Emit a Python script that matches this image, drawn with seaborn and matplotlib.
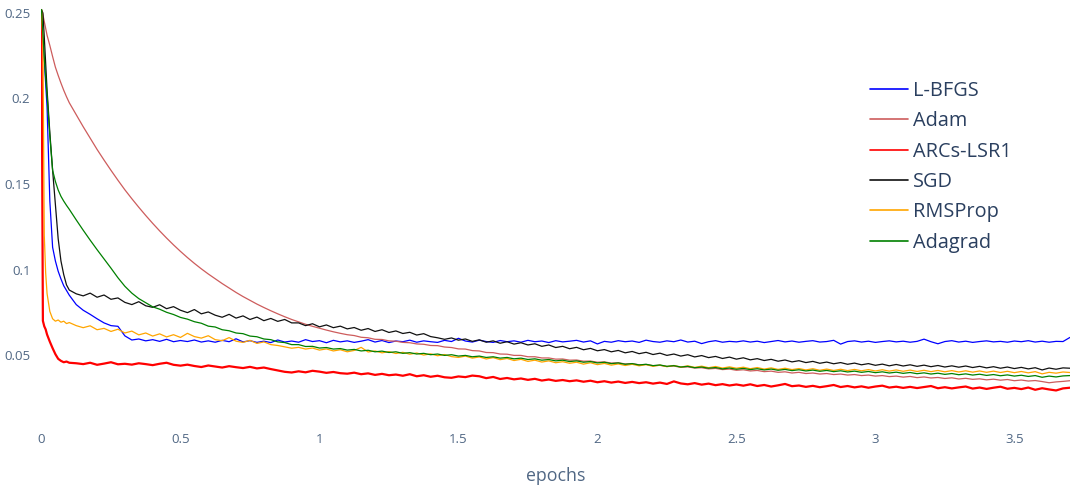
import numpy as np
import pandas as pd
import matplotlib
matplotlib.use("Agg")
import matplotlib.pyplot as plt
import seaborn as sns

# ---- sample positions (epochs) ----
EPOCHS_HEAD = [0.0, 0.005, 0.01, 0.015, 0.02, 0.03, 0.04, 0.05, 0.06, 0.07, 0.08, 0.09, 0.1]
EPOCHS_TAIL = np.round(np.arange(0.125, 3.7001, 0.025), 3).tolist()
EPOCHS = EPOCHS_HEAD + EPOCHS_TAIL

# ---- training loss per optimizer ----
LBFGS = [0.250, 0.236, 0.222, 0.208, 0.195, 0.140, 0.113, 0.105, 0.099, 0.0945, 0.0905, 0.0878, 0.0850,
         0.0795, 0.0762, 0.0738, 0.0712, 0.0688, 0.0672, 0.0668, 0.0612,
         0.0588, 0.0594, 0.0583, 0.0590, 0.0580, 0.0592, 0.0578, 0.0585,
         0.0579, 0.0588, 0.0576, 0.0583, 0.0575, 0.0586, 0.0578, 0.0595,
         0.0577, 0.0584, 0.0574, 0.0581, 0.0573, 0.0588, 0.0576, 0.0582,
         0.0575, 0.0590, 0.0579, 0.0584, 0.0572, 0.0586, 0.0577, 0.0583,
         0.0574, 0.0581, 0.0590, 0.0576, 0.0585, 0.0573, 0.0582, 0.0578,
         0.0587, 0.0575, 0.0583, 0.0578, 0.0574, 0.0586, 0.0579, 0.0598,
         0.0582, 0.0576, 0.0587, 0.0579, 0.0574, 0.0585, 0.0578, 0.0583,
         0.0575, 0.0586, 0.0578, 0.0582, 0.0573, 0.0584, 0.0577, 0.0581,
         0.0586, 0.0576, 0.0583, 0.0565, 0.0580, 0.0575, 0.0584, 0.0578,
         0.0582, 0.0574, 0.0587, 0.0579, 0.0575, 0.0583, 0.0578, 0.0588,
         0.0576, 0.0581, 0.0567, 0.0578, 0.0584, 0.0575, 0.0580, 0.0577,
         0.0583, 0.0576, 0.0581, 0.0573, 0.0579, 0.0585, 0.0577, 0.0582,
         0.0575, 0.0580, 0.0584, 0.0576, 0.0579, 0.0586, 0.0564, 0.0579,
         0.0583, 0.0576, 0.0581, 0.0574, 0.0579, 0.0583, 0.0577, 0.0581,
         0.0575, 0.0580, 0.0593, 0.0578, 0.0566, 0.0579, 0.0584, 0.0576,
         0.0581, 0.0574, 0.0579, 0.0583, 0.0577, 0.0580, 0.0575, 0.0582,
         0.0578, 0.0584, 0.0576, 0.0581, 0.0575, 0.0580, 0.0579, 0.0603]

ADAM = [0.252, 0.249, 0.245, 0.241, 0.237, 0.231, 0.2245, 0.2183, 0.2135, 0.209, 0.2048, 0.201, 0.1975,
        0.1905, 0.1835, 0.1768, 0.1702, 0.1640, 0.1580, 0.1522, 0.1466,
        0.1414, 0.1364, 0.1316, 0.1270, 0.1226, 0.1184, 0.1144, 0.1106,
        0.1070, 0.1036, 0.1004, 0.0974, 0.0946, 0.0918, 0.0892, 0.0866,
        0.0842, 0.0820, 0.0798, 0.0778, 0.0759, 0.0741, 0.0724, 0.0708,
        0.0694, 0.0680, 0.0668, 0.0657, 0.0646, 0.0636, 0.0627, 0.0619,
        0.0614, 0.0604, 0.0601, 0.0592, 0.0591, 0.0583, 0.0581, 0.0574,
        0.0572, 0.0565, 0.0563, 0.0556, 0.0555, 0.0547, 0.0544, 0.0536,
        0.0535, 0.0526, 0.0524, 0.0515, 0.0514, 0.0506, 0.0505, 0.0498,
        0.0498, 0.0490, 0.0490, 0.0483, 0.0483, 0.0476, 0.0477, 0.0470,
        0.0471, 0.0464, 0.0465, 0.0458, 0.0460, 0.0453, 0.0455, 0.0448,
        0.0450, 0.0443, 0.0445, 0.0438, 0.0440, 0.0433, 0.0436, 0.0428,
        0.0431, 0.0424, 0.0426, 0.0419, 0.0422, 0.0415, 0.0418, 0.0411,
        0.0414, 0.0407, 0.0410, 0.0403, 0.0406, 0.0399, 0.0402, 0.0395,
        0.0399, 0.0392, 0.0395, 0.0389, 0.0392, 0.0386, 0.0389, 0.0383,
        0.0386, 0.0380, 0.0383, 0.0377, 0.0380, 0.0374, 0.0377, 0.0371,
        0.0375, 0.0368, 0.0372, 0.0366, 0.0369, 0.0363, 0.0367, 0.0360,
        0.0364, 0.0358, 0.0361, 0.0355, 0.0359, 0.0353, 0.0357, 0.0350,
        0.0354, 0.0348, 0.0351, 0.0345, 0.0338, 0.0343, 0.0346, 0.0350]

ARCS_LSR1 = [0.250, 0.0700, 0.0668, 0.0650, 0.0620, 0.0578, 0.0540, 0.0505, 0.0478, 0.0466, 0.0458, 0.0462, 0.0455,
             0.0452, 0.0447, 0.0455, 0.0443, 0.0450, 0.0458, 0.0446, 0.0449,
             0.0444, 0.0452, 0.0447, 0.0441, 0.0449, 0.0455, 0.0443, 0.0438,
             0.0444, 0.0436, 0.0430, 0.0439, 0.0433, 0.0427, 0.0435, 0.0429,
             0.0424, 0.0431, 0.0422, 0.0427, 0.0418, 0.0410, 0.0402, 0.0398,
             0.0405, 0.0399, 0.0408, 0.0403, 0.0396, 0.0401, 0.0394, 0.0391,
             0.0397, 0.0388, 0.0393, 0.0384, 0.0390, 0.0382, 0.0386, 0.0379,
             0.0388, 0.0376, 0.0382, 0.0373, 0.0379, 0.0370, 0.0367, 0.0375,
             0.0371, 0.0380, 0.0376, 0.0365, 0.0372, 0.0360, 0.0366, 0.0358,
             0.0363, 0.0355, 0.0361, 0.0351, 0.0357, 0.0349, 0.0354, 0.0347,
             0.0352, 0.0344, 0.0350, 0.0341, 0.0347, 0.0339, 0.0345, 0.0337,
             0.0343, 0.0336, 0.0341, 0.0333, 0.0339, 0.0331, 0.0346, 0.0334,
             0.0329, 0.0336, 0.0327, 0.0333, 0.0324, 0.0330, 0.0322, 0.0328,
             0.0321, 0.0329, 0.0319, 0.0325, 0.0316, 0.0323, 0.0331, 0.0318,
             0.0322, 0.0314, 0.0320, 0.0312, 0.0318, 0.0325, 0.0313, 0.0319,
             0.0311, 0.0317, 0.0309, 0.0316, 0.0321, 0.0310, 0.0315, 0.0308,
             0.0314, 0.0307, 0.0313, 0.0319, 0.0306, 0.0312, 0.0305, 0.0311,
             0.0316, 0.0304, 0.0310, 0.0302, 0.0309, 0.0315, 0.0303, 0.0308,
             0.0301, 0.0310, 0.0297, 0.0306, 0.0299, 0.0293, 0.0305, 0.0309]

SGD = [0.252, 0.250, 0.236, 0.220, 0.205, 0.180, 0.158, 0.138, 0.118, 0.105, 0.097, 0.091, 0.088,
       0.0858, 0.0846, 0.0862, 0.0838, 0.0851, 0.0826, 0.0834, 0.0808,
       0.0795, 0.0812, 0.0788, 0.0779, 0.0794, 0.0771, 0.0783, 0.0762,
       0.0748, 0.0766, 0.0741, 0.0752, 0.0733, 0.0721, 0.0738, 0.0716,
       0.0729, 0.0708, 0.0722, 0.0701, 0.0714, 0.0697, 0.0708, 0.0688,
       0.0688, 0.0672, 0.0683, 0.0665, 0.0676, 0.0660, 0.0669, 0.0653,
       0.0661, 0.0645, 0.0655, 0.0638, 0.0648, 0.0632, 0.0641, 0.0626,
       0.0633, 0.0617, 0.0625, 0.0608, 0.0601, 0.0592, 0.0600, 0.0587,
       0.0594, 0.0580, 0.0589, 0.0575, 0.0583, 0.0569, 0.0578, 0.0564,
       0.0572, 0.0559, 0.0566, 0.0551, 0.0559, 0.0544, 0.0551, 0.0537,
       0.0545, 0.0531, 0.0539, 0.0525, 0.0532, 0.0519, 0.0527, 0.0513,
       0.0521, 0.0508, 0.0516, 0.0503, 0.0511, 0.0498, 0.0506, 0.0494,
       0.0502, 0.0489, 0.0497, 0.0485, 0.0492, 0.0480, 0.0488, 0.0476,
       0.0484, 0.0472, 0.0479, 0.0468, 0.0475, 0.0464, 0.0471, 0.0460,
       0.0467, 0.0456, 0.0463, 0.0452, 0.0459, 0.0449, 0.0456, 0.0446,
       0.0453, 0.0443, 0.0450, 0.0440, 0.0447, 0.0437, 0.0445, 0.0436,
       0.0443, 0.0434, 0.0441, 0.0432, 0.0439, 0.0430, 0.0437, 0.0429,
       0.0436, 0.0427, 0.0434, 0.0425, 0.0432, 0.0423, 0.0430, 0.0421,
       0.0428, 0.0419, 0.0426, 0.0413, 0.0424, 0.0417, 0.0425, 0.0423]

RMSPROP = [0.252, 0.235, 0.120, 0.098, 0.086, 0.0755, 0.0712, 0.0698, 0.0705, 0.0692, 0.0698, 0.0684, 0.0690,
           0.0672, 0.0660, 0.0671, 0.0648, 0.0656, 0.0638, 0.0651, 0.0629,
           0.0640, 0.0618, 0.0629, 0.0611, 0.0624, 0.0606, 0.0619, 0.0603,
           0.0627, 0.0608, 0.0599, 0.0613, 0.0590, 0.0584, 0.0602, 0.0581,
           0.0574, 0.0586, 0.0568, 0.0577, 0.0561, 0.0556, 0.0548, 0.0540,
           0.0545, 0.0535, 0.0541, 0.0529, 0.0536, 0.0524, 0.0531, 0.0519,
           0.0527, 0.0545, 0.0518, 0.0524, 0.0513, 0.0520, 0.0509, 0.0516,
           0.0505, 0.0512, 0.0500, 0.0507, 0.0496, 0.0503, 0.0491, 0.0486,
           0.0494, 0.0482, 0.0489, 0.0477, 0.0485, 0.0473, 0.0480, 0.0468,
           0.0475, 0.0463, 0.0470, 0.0459, 0.0466, 0.0455, 0.0461, 0.0452,
           0.0458, 0.0447, 0.0455, 0.0444, 0.0451, 0.0441, 0.0448, 0.0439,
           0.0446, 0.0437, 0.0444, 0.0434, 0.0441, 0.0432, 0.0439, 0.0430,
           0.0437, 0.0428, 0.0435, 0.0426, 0.0433, 0.0424, 0.0431, 0.0423,
           0.0429, 0.0420, 0.0427, 0.0418, 0.0425, 0.0416, 0.0423, 0.0415,
           0.0421, 0.0413, 0.0420, 0.0411, 0.0418, 0.0410, 0.0417, 0.0409,
           0.0416, 0.0408, 0.0415, 0.0407, 0.0414, 0.0406, 0.0413, 0.0405,
           0.0412, 0.0404, 0.0411, 0.0403, 0.0410, 0.0402, 0.0409, 0.0401,
           0.0408, 0.0400, 0.0407, 0.0399, 0.0406, 0.0398, 0.0405, 0.0397,
           0.0404, 0.0396, 0.0403, 0.0390, 0.0399, 0.0394, 0.0401, 0.0398]

ADAGRAD = [0.252, 0.238, 0.224, 0.212, 0.202, 0.178, 0.158, 0.1515, 0.1465, 0.1428, 0.1400, 0.1375, 0.1352,
           0.1290, 0.1230, 0.1172, 0.1116, 0.1062, 0.1008, 0.0952, 0.0902,
           0.0862, 0.0830, 0.0806, 0.0782, 0.0768, 0.0750, 0.0737, 0.0720,
           0.0710, 0.0695, 0.0686, 0.0669, 0.0664, 0.0648, 0.0642, 0.0629,
           0.0625, 0.0611, 0.0607, 0.0594, 0.0590, 0.0577, 0.0573, 0.0561,
           0.0561, 0.0550, 0.0551, 0.0541, 0.0544, 0.0535, 0.0538, 0.0529,
           0.0533, 0.0524, 0.0528, 0.0519, 0.0523, 0.0515, 0.0519, 0.0510,
           0.0514, 0.0506, 0.0510, 0.0502, 0.0506, 0.0498, 0.0502, 0.0494,
           0.0498, 0.0490, 0.0494, 0.0486, 0.0490, 0.0482, 0.0486, 0.0478,
           0.0482, 0.0474, 0.0478, 0.0470, 0.0474, 0.0466, 0.0470, 0.0462,
           0.0466, 0.0458, 0.0462, 0.0454, 0.0458, 0.0450, 0.0454, 0.0446,
           0.0450, 0.0442, 0.0446, 0.0438, 0.0442, 0.0434, 0.0438, 0.0430,
           0.0434, 0.0426, 0.0430, 0.0423, 0.0427, 0.0419, 0.0424, 0.0417,
           0.0422, 0.0415, 0.0420, 0.0413, 0.0418, 0.0411, 0.0416, 0.0409,
           0.0414, 0.0407, 0.0412, 0.0405, 0.0410, 0.0403, 0.0408, 0.0401,
           0.0406, 0.0399, 0.0404, 0.0397, 0.0402, 0.0395, 0.0400, 0.0393,
           0.0398, 0.0391, 0.0396, 0.0389, 0.0394, 0.0387, 0.0392, 0.0385,
           0.0390, 0.0383, 0.0388, 0.0381, 0.0386, 0.0379, 0.0384, 0.0377,
           0.0382, 0.0375, 0.0380, 0.0370, 0.0377, 0.0372, 0.0378, 0.0380]

SERIES_NAMES = ["L-BFGS", "Adam", "ARCs-LSR1", "SGD", "RMSProp", "Adagrad"]
SERIES_VALUES = [LBFGS, ADAM, ARCS_LSR1, SGD, RMSPROP, ADAGRAD]

X_TICKS = [0, 0.5, 1, 1.5, 2, 2.5, 3, 3.5]
X_TICK_LABELS = ["0", "0.5", "1", "1.5", "2", "2.5", "3", "3.5"]
Y_TICKS = [0.05, 0.1, 0.15, 0.2, 0.25]
Y_TICK_LABELS = ["0.05", "0.1", "0.15", "0.2", "0.25"]

# ---- styling ----
COLORS = {"L-BFGS": "#0000ff", "Adam": "#cd5c5c", "ARCs-LSR1": "#ff0000",
          "SGD": "#111111", "RMSProp": "#ffa500", "Adagrad": "#008000"}
WIDTHS = {"L-BFGS": 0.9, "Adam": 0.9, "ARCs-LSR1": 1.6,
          "SGD": 0.9, "RMSProp": 0.9, "Adagrad": 0.9}

frames = []
for name, vals in zip(SERIES_NAMES, SERIES_VALUES):
    frames.append(pd.DataFrame({"epochs": EPOCHS, "loss": vals, "optimizer": name}))
df = pd.concat(frames, ignore_index=True)

sns.set_theme(style="white")
plt.rcParams["font.family"] = ["Open Sans", "DejaVu Sans"]

fig = plt.figure(figsize=(10.75, 4.91), dpi=100)
ax = fig.add_axes([0.0386, 0.1344, 0.9567, 0.8493])

for name in SERIES_NAMES:
    sub = df[df["optimizer"] == name]
    sns.lineplot(data=sub, x="epochs", y="loss", ax=ax, color=COLORS[name],
                 linewidth=WIDTHS[name], label=name, estimator=None, sort=False)

ax.set_xlim(0, 3.70)
ax.set_ylim(0.0091, 0.2529)
tick_color = "#506784"
ax.set_xticks(X_TICKS)
ax.set_xticklabels(X_TICK_LABELS)
ax.set_yticks(Y_TICKS)
ax.set_yticklabels(Y_TICK_LABELS)
ax.tick_params(axis="both", length=0, labelsize=9.5, colors=tick_color)
ax.tick_params(axis="x", pad=6)
ax.tick_params(axis="y", pad=8)
for s in ax.spines.values():
    s.set_visible(False)
ax.grid(False)
ax.set_xlabel("epochs", fontsize=12.8, color="#506784", labelpad=15)
ax.set_ylabel("")

leg = ax.legend(loc="upper left", bbox_to_anchor=(0.798, 0.844), frameon=False,
                fontsize=14.3, handlelength=1.9, handletextpad=0.25,
                labelspacing=0.52, borderaxespad=0)
for t in leg.get_texts():
    t.set_color("#2a3f5f")
for h in leg.get_lines():
    h.set_linewidth(1.2)

fig.savefig("out.png", dpi=100, facecolor="white")
